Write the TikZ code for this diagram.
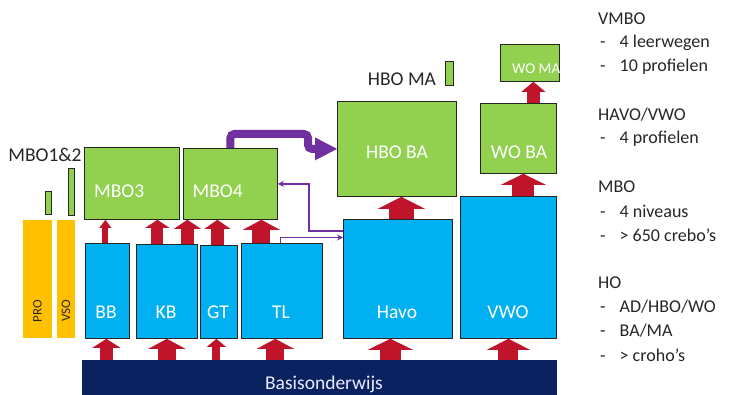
\documentclass[tikz,border=0pt]{standalone}
\usepackage{fontspec}
\setmainfont{Carlito}
\usetikzlibrary{arrows.meta}
\definecolor{gr}{HTML}{92D050}
\definecolor{bl}{HTML}{00B0F0}
\definecolor{og}{HTML}{FFC000}
\definecolor{nv}{HTML}{0B2260}
\definecolor{ar}{RGB}{192,20,42}
\definecolor{pp}{HTML}{7030A0}
\definecolor{tx}{HTML}{262626}
\begin{document}
\begin{tikzpicture}[x=1pt,y=-1pt,
  box/.style={draw=black!85, line width=0.8pt, inner sep=0pt, anchor=north west},
  gbox/.style={box, fill=gr},
  bbox/.style={box, fill=bl},
  obox/.style={fill=og, inner sep=0pt, anchor=north west},
  lab/.style={text=white, font=\fontsize{19.5}{23}\selectfont, inner sep=0pt},
  dark/.style={text=tx, font=\fontsize{19.5}{23}\selectfont, inner sep=0pt},
  side/.style={text=tx, font=\fontsize{18}{22}\selectfont, inner sep=0pt, anchor=west},
  blk/.style n args={3}{draw=ar, line width=#1, -{Triangle[width=#2,length=#3,line width=0pt]}},
  thickp/.style={draw=pp, line width=8pt, rounded corners=4pt, -{Triangle[width=23pt,length=22pt,line width=0pt]}},
  thinp/.style={draw=pp, line width=1.4pt, -{Stealth[length=6pt,width=6pt]}}
]
\useasboundingbox (0,0) rectangle (734,395);

% base
\node[fill=nv, inner sep=0pt, anchor=north west, minimum width=475pt, minimum height=35pt] (basis) at (82,360) {};
\node[text=white!92!blue, font=\fontsize{19.5}{23}\selectfont, inner sep=0pt] (basistxt) at (324,384) {Basisonderwijs};

% orange bars
\node[obox, minimum width=29pt, minimum height=118pt] (pro) at (23,220) {};
\node[obox, minimum width=18pt, minimum height=118pt] (vso) at (57,220) {};
\node[rotate=90, text=tx, font=\fontsize{13}{15}\selectfont, inner sep=0pt] (protxt) at (37.5,311) {PRO};
\node[rotate=90, text=tx, font=\fontsize{13}{15}\selectfont, inner sep=0pt] (vsotxt) at (66,311) {VSO};

% small green bars
\node[gbox, minimum width=6pt, minimum height=23pt] (bar1) at (44.5,191) {};
\node[gbox, minimum width=6pt, minimum height=47pt] (bar2) at (68,168) {};
\node[dark] (mbo12) at (45,155) {MBO1\&2};

% MBO boxes
\node[gbox, minimum width=95pt, minimum height=72pt] (mbo3) at (84,147) {};
\node[lab, anchor=west] (mbo3t) at (94,191) {MBO3};
\node[gbox, minimum width=94pt, minimum height=71pt] (mbo4) at (183,148) {};
\node[lab, anchor=west] (mbo4t) at (192.5,191) {MBO4};

% HBO / WO
\node[gbox, minimum width=119pt, minimum height=95pt] (hboba) at (337,101) {};
\node[lab] (hbobat) at (397,152) {HBO BA};
\node[dark] (hboma) at (402,79) {HBO MA};
\node[gbox, minimum width=8pt, minimum height=24pt] (hbomabar) at (445,61) {};
\node[gbox, minimum width=76pt, minimum height=70pt] (woba) at (480,103) {};
\node[lab] (wobat) at (519,152) {WO BA};
\node[gbox, minimum width=59pt, minimum height=37pt] (woma) at (500,44) {};
\node[lab, anchor=west, font=\fontsize{15}{18}\selectfont] (womat) at (512,68.5) {WO MA};

% blue boxes
\node[bbox, minimum width=44pt, minimum height=95pt] (bb) at (85,243) {};
\node[bbox, minimum width=61pt, minimum height=94pt] (kb) at (136,244) {};
\node[bbox, minimum width=37pt, minimum height=93pt] (gt) at (200,245) {};
\node[bbox, minimum width=81pt, minimum height=95pt] (tl) at (241,243) {};
\node[bbox, minimum width=109pt, minimum height=119pt] (havo) at (343,219) {};
\node[bbox, minimum width=96pt, minimum height=142pt] (vwo) at (460,196) {};
\node[lab] (bbt) at (106,312) {BB};
\node[lab] (kbt) at (166,312) {KB};
\node[lab] (gtt) at (218,312) {GT};
\node[lab] (tlt) at (281,312) {TL};
\node[lab] (havot) at (397,312) {Havo};
\node[lab] (vwot) at (508,312) {VWO};

% red arrows from base
\draw[blk={13pt}{28pt}{9pt}] ([xshift=-1pt]bb.south |- basis.north) -- ([xshift=-1pt]bb.south);
\draw[blk={18pt}{37pt}{10pt}] (kb.south |- basis.north) -- (kb.south);
\draw[blk={8pt}{19pt}{8pt}] ([xshift=-2.5pt]gt.south |- basis.north) -- ([xshift=-2.5pt]gt.south);
\draw[blk={18pt}{37pt}{10pt}] ([xshift=-6.5pt]tl.south |- basis.north) -- ([xshift=-6.5pt]tl.south);
\draw[blk={21pt}{45pt}{11pt}] ([xshift=-7.5pt]havo.south |- basis.north) -- ([xshift=-7.5pt]havo.south);
\draw[blk={20pt}{43pt}{11pt}] (vwo.south |- basis.north) -- (vwo.south);

% red arrows vmbo -> mbo
\draw[blk={6pt}{12pt}{8pt}] ([xshift=-2pt]bb.north) -- ([xshift=-2pt]bb.north |- mbo3.south);
\draw[blk={12pt}{24pt}{8pt}] ([xshift=-9.5pt]kb.north) -- ([xshift=-9.5pt]kb.north |- mbo3.south);
\draw[blk={13pt}{27pt}{9pt}] ([xshift=20.5pt]kb.north) -- ([xshift=20.5pt]kb.north |- mbo4.south);
\draw[blk={13pt}{26pt}{9pt}] ([xshift=-1.5pt]gt.north) -- ([xshift=-1.5pt]gt.north |- mbo4.south);
\draw[blk={18pt}{37pt}{10pt}] ([xshift=-20.5pt]tl.north) -- ([xshift=-20.5pt]tl.north |- mbo4.south);

% red arrows havo/vwo -> ho
\draw[blk={25pt}{47pt}{12pt}] ([xshift=3.5pt]havo.north) -- ([xshift=3.5pt]havo.north |- hboba.south);
\draw[blk={22pt}{45pt}{11pt}] ([xshift=15pt]vwo.north) -- ([xshift=15pt]vwo.north |- woba.south);
\draw[blk={13pt}{24pt}{10pt}] ([xshift=15pt]woba.north) -- ([xshift=15pt]woba.north |- woma.south);

% purple arrows
\draw[thickp] (mbo4.north) |- (308,134) |- (hboba.west);
\draw[thinp] ([xshift=-1.5pt]tl.north) |- (havo.west |- 0,237.5);
\draw[thinp] (havo.west |- 0,231) -| ([xshift=31pt]mbo4.east) -- (mbo4.east);

% side text
\node[side] (s1) at (598,19) {VMBO};
\node[side] (s2) at (600,43) {-\hspace{14pt}4 leerwegen};
\node[side] (s3) at (600,67) {-\hspace{14pt}10 profielen};
\node[side] (s4) at (598,115) {HAVO/VWO};
\node[side] (s5) at (600,139) {-\hspace{14pt}4 profielen};
\node[side] (s6) at (598,187) {MBO};
\node[side] (s7) at (600,211) {-\hspace{14pt}4 niveaus};
\node[side] (s8) at (600,235) {-\hspace{14pt}> 650 crebo’s};
\node[side] (s9) at (598,283) {HO};
\node[side] (s10) at (600,307) {-\hspace{14pt}AD/HBO/WO};
\node[side] (s11) at (600,331) {-\hspace{14pt}BA/MA};
\node[side] (s12) at (600,355) {-\hspace{14pt}> croho’s};
\end{tikzpicture}
\end{document}
